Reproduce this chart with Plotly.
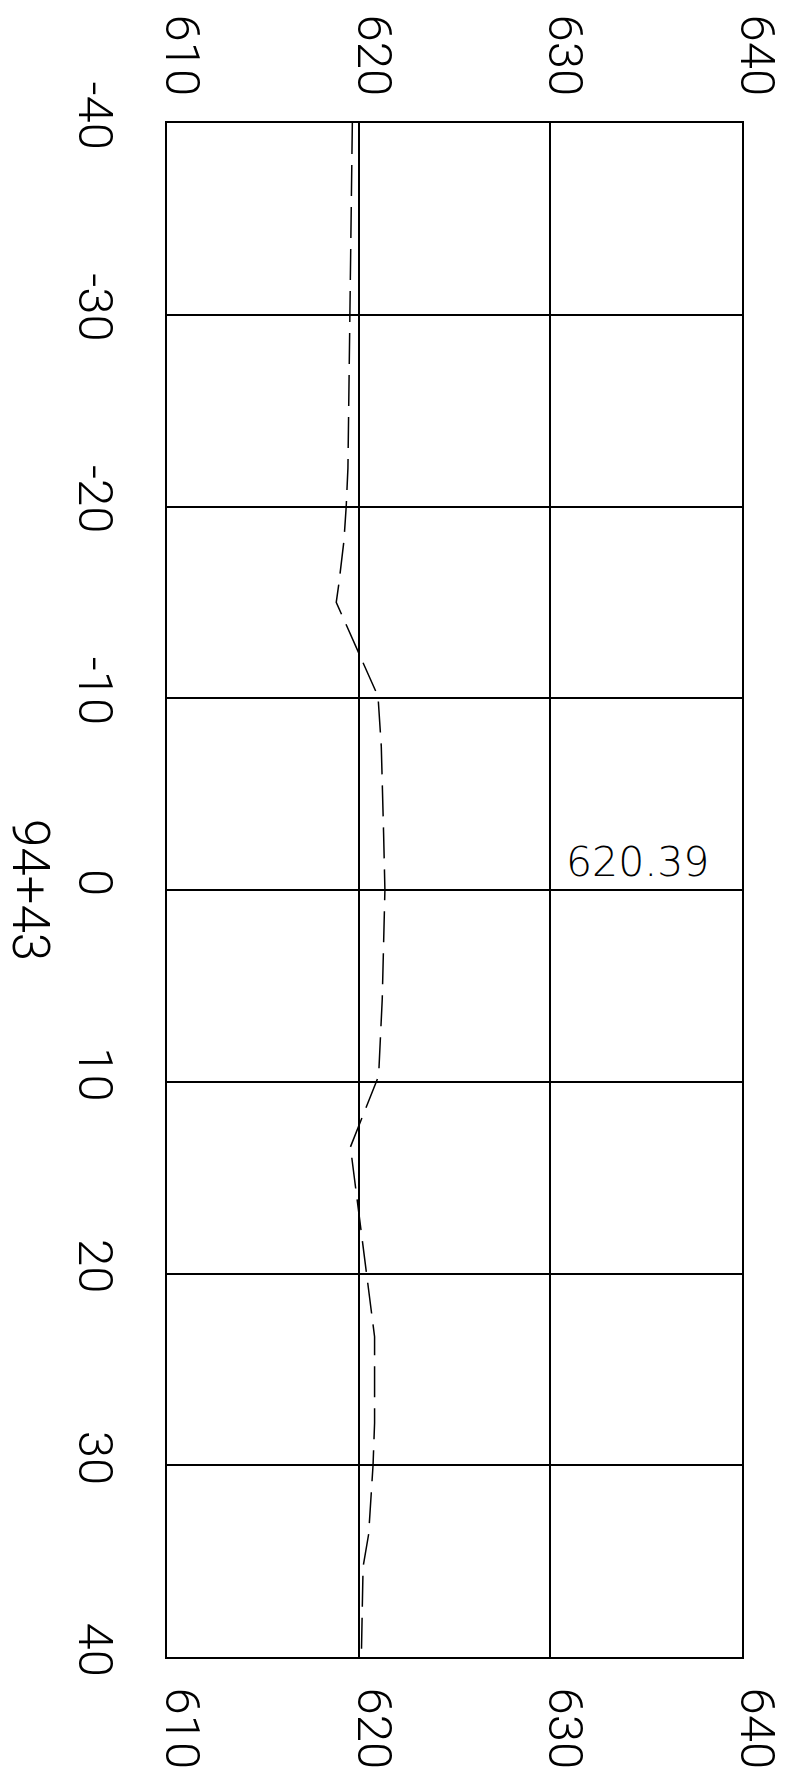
import plotly.graph_objects as go

# Cross-section data: offset (ft) vs elevation (ft)
offsets = [-40, -30, -22, -20, -18.2, -16, -15.0, -10.1, -7.5, -3, 0, 5.7, 9.0, 9.7,
           13.4, 23.3, 27.8, 30, 33.6, 35.3, 40]
elevations = [619.67, 619.53, 619.44, 619.35, 619.23, 618.97, 618.83, 621.01, 621.18,
              621.30, 621.37, 621.23, 621.10, 621.04, 619.57, 620.83, 620.83, 620.75,
              620.52, 620.23, 620.14]

elev_ticks = [610, 620, 630, 640]
elev_ticktext = ["610", "620", "630", "640"]
offset_ticks = [-40, -30, -20, -10, 0, 10, 20, 30, 40]
offset_ticktext = ["-40", "-30", "-20", "-10", "0", "10", "20", "30", "40"]

station_label = "94+43"
label_elev_anchor = 630
label_offset_anchor = 0
label_text = "620.39"

FONT = "Roboto"
# page body has an 8px default margin, so the figure is 8px smaller than the window
W, H = 780, 1766

fig = go.Figure()
fig.add_trace(go.Scatter(
    x=elevations, y=offsets, mode="lines",
    line=dict(color="black", width=1.5, dash="31px,11px"),
    hoverinfo="skip", showlegend=False))
# invisible trace to activate the top axis
fig.add_trace(go.Scatter(
    x=elev_ticks, y=[offset_ticks[0]] * len(elev_ticks), xaxis="x2", yaxis="y",
    mode="markers", marker=dict(opacity=0), hoverinfo="skip", showlegend=False))

tickfont = dict(family=FONT, size=49, color="black", weight=300)
xcommon = dict(
    range=[610, 640], tickmode="array", tickvals=elev_ticks, ticktext=elev_ticktext,
    tickangle=90, showline=True, linecolor="black", linewidth=1.5, ticks="",
    zeroline=False, tickfont=tickfont, ticklabelshift=15,
    ticklabeloverflow="allow", automargin=False, fixedrange=True)

fig.update_layout(
    width=W, height=H,
    margin=dict(l=159, r=46, t=115, b=117),
    paper_bgcolor="white", plot_bgcolor="white",
    showlegend=False,
    xaxis=dict(**xcommon, side="bottom", mirror=True, showgrid=True,
               gridcolor="black", gridwidth=1.5, ticklabelstandoff=19),
    xaxis2=dict(**xcommon, side="top", overlaying="x", matches="x", showgrid=False,
                ticklabelstandoff=8),
    yaxis=dict(range=[40, -40], tickmode="array", tickvals=offset_ticks,
               ticktext=offset_ticktext, tickangle=90, showline=True, mirror=True,
               linecolor="black", linewidth=1.5, ticks="", zeroline=False,
               showgrid=True, gridcolor="black", gridwidth=1.5,
               tickfont=tickfont, ticklabelstandoff=27, ticklabeloverflow="allow",
               automargin=False, fixedrange=True),
    annotations=[
        dict(text=station_label, xref="paper", x=0, xshift=-136, xanchor="center",
             yref="y", y=label_offset_anchor, yanchor="middle", textangle=90,
             showarrow=False, font=dict(family=FONT, size=51, color="black", weight=300)),
        dict(text=label_text, xref="x", x=label_elev_anchor, xshift=14, xanchor="left",
             yref="y", y=label_offset_anchor, yanchor="bottom", yshift=2,
             showarrow=False,
             font=dict(family="DejaVu Sans", size=41, color="black", weight=200)),
    ],
)

fig.write_html("out.html")
